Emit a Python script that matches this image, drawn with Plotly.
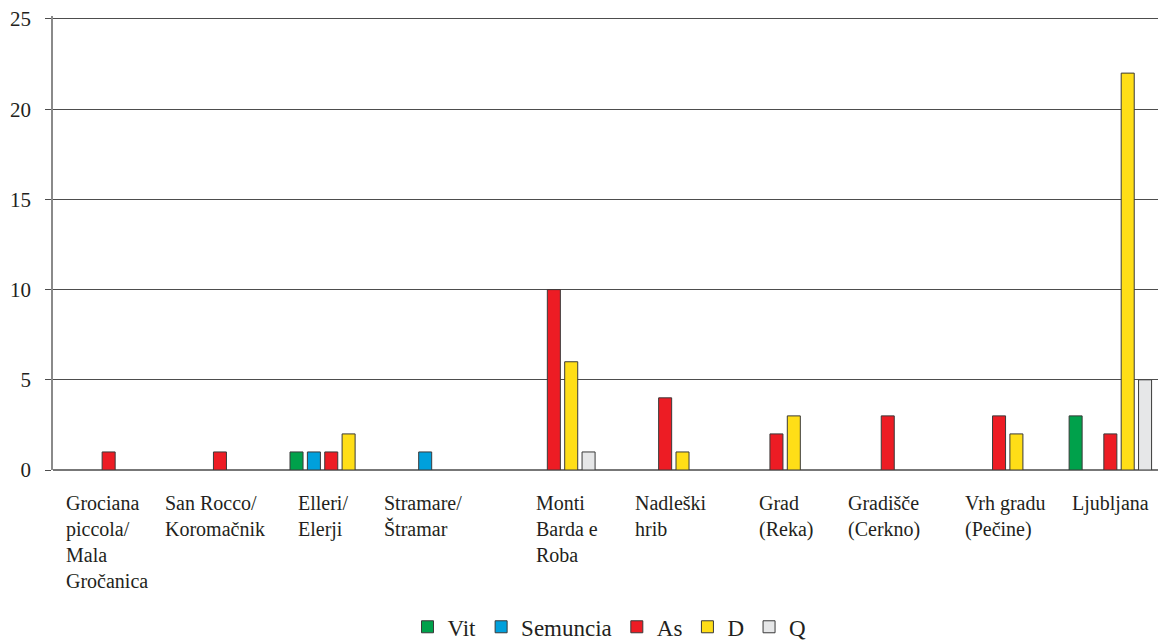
import plotly.graph_objects as go

sites = [
    "Grociana<br>piccola/<br>Mala<br>Gročanica",
    "San Rocco/<br>Koromačnik",
    "Elleri/<br>Elerji",
    "Stramare/<br>Štramar",
    "Monti<br>Barda e<br>Roba",
    "Nadleški<br>hrib",
    "Grad<br>(Reka)",
    "Gradišče<br>(Cerkno)",
    "Vrh gradu<br>(Pečine)",
    "Ljubljana",
]
vit = [0, 0, 1, 0, 0, 0, 0, 0, 0, 3]
semuncia = [0, 0, 1, 1, 0, 0, 0, 0, 0, 0]
as_ = [1, 1, 1, 0, 10, 4, 2, 3, 3, 2]
d = [0, 0, 2, 0, 6, 1, 3, 0, 2, 22]
q = [0, 0, 0, 0, 1, 0, 0, 0, 0, 5]

series = [
    ("Vit", vit, "#00a14b"),
    ("Semuncia", semuncia, "#00a0dc"),
    ("As", as_, "#ed1c24"),
    ("D", d, "#ffde17"),
    ("Q", q, "#e6e7e8"),
]

# label left edge, px from the start of each group
label_offsets = [11, -1, 20, -5, 36, 23, 36, 14, 20, 15]

FONT = "Times New Roman, Liberation Serif, Tinos, DejaVu Serif, serif"
TXT = "#231f20"
xpos = list(range(len(sites)))

fig = go.Figure()
for name, vals, col in series:
    fig.add_trace(go.Bar(
        x=xpos,
        y=[v if v else None for v in vals],
        name=name,
        marker=dict(color=col, line=dict(color="#3a3a3a", width=1)),
    ))

for i, s in enumerate(sites):
    fig.add_annotation(
        x=i - 0.5, y=0, xref="x", yref="paper",
        text=s, showarrow=False, align="left",
        xanchor="left", yanchor="top", xshift=label_offsets[i], yshift=-20,
        font=dict(family=FONT, size=20, color=TXT),
    )

# page body has an 8px margin, so the figure is sized 8px short
fig.update_layout(
    width=1158, height=636,
    margin=dict(l=45, r=0, t=8, b=174),
    paper_bgcolor="white", plot_bgcolor="white",
    barmode="group", bargap=0.22, bargroupgap=0.25,
    font=dict(family=FONT, size=20, color=TXT),
    showlegend=True,
    legend=dict(
        orientation="h", x=0.5, xanchor="center",
        yref="container", y=0.027, yanchor="middle",
        font=dict(family=FONT, size=23, color=TXT),
        itemwidth=30, tracegroupgap=0,
    ),
    xaxis=dict(
        range=[-0.5, 9.5], showticklabels=False, showgrid=False,
        zeroline=False, showline=False, ticks="",
    ),
    yaxis=dict(
        range=[0, 25.166], tickvals=[0, 5, 10, 15, 20, 25],
        showgrid=True, gridcolor="#4d4d4d",
        gridwidth=1, zeroline=True, zerolinecolor="#777777",
        zerolinewidth=1.5, showline=True, linecolor="#8a8a8a",
        linewidth=1.5, ticks="outside", ticklen=6, tickcolor="#4d4d4d",
        ticklabelstandoff=10, ticklabeloverflow="allow",
        tickfont=dict(family=FONT, size=21, color=TXT),
    ),
)

fig.write_html("out.html")
